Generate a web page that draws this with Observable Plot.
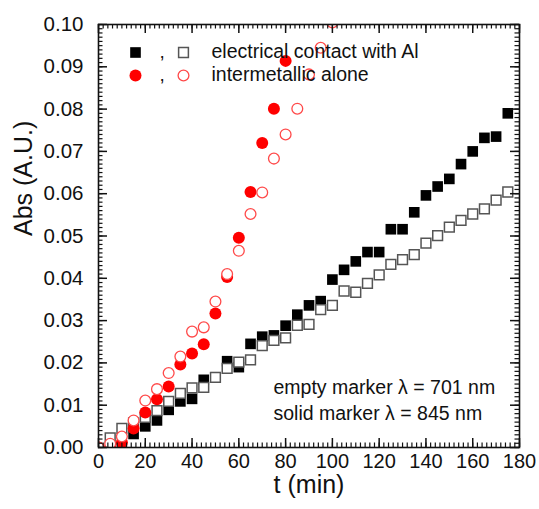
<!DOCTYPE html>
<html>
<head>
<meta charset="utf-8">
<script src="https://cdn.jsdelivr.net/npm/d3@7"></script>
<script src="https://cdn.jsdelivr.net/npm/@observablehq/plot@0.6"></script>
<style>
  html, body { margin: 0; padding: 0; background: #fff; }
  #chart svg { display: block; }
</style>
</head>
<body>
<div id="chart"></div>
<script>
// Absorbance versus time, at 845 nm (solid markers) and 701 nm (empty markers)

// Intermetallic in electrical contact with Al
const contactTime845 = [15, 20, 25, 30, 35, 40, 45, 50, 55, 60, 65, 70, 75, 80, 85, 90, 95, 100, 105, 110,
  115, 120, 125, 130, 135, 140, 145, 150, 155, 160, 165, 170, 175];
const contactAbs845 = [0.0032, 0.0050, 0.0064, 0.0089, 0.0109, 0.0115, 0.0160, 0.0166, 0.0204, 0.0190,
  0.0245, 0.0262, 0.0265, 0.0288, 0.0314, 0.0336, 0.0346, 0.0397, 0.0420, 0.0440,
  0.0462, 0.0462, 0.0516, 0.0516, 0.0556, 0.0596, 0.0617, 0.0635, 0.0670, 0.0700,
  0.0732, 0.0735, 0.0790];

const contactTime701 = [5, 10, 15, 20, 25, 30, 35, 40, 45, 50, 55, 60, 65, 70, 75, 80, 85, 90, 95, 100,
  105, 110, 115, 120, 125, 130, 135, 140, 145, 150, 155, 160, 165, 170, 175];
const contactAbs701 = [0.0023, 0.0045, 0.0058, 0.0071, 0.0087, 0.0109, 0.0128, 0.0141, 0.0142, 0.0166,
  0.0187, 0.0202, 0.0207, 0.0241, 0.0253, 0.0259, 0.0289, 0.0291, 0.0326, 0.0336,
  0.0370, 0.0367, 0.0388, 0.0408, 0.0433, 0.0444, 0.0456, 0.0483, 0.0501, 0.0521,
  0.0537, 0.0552, 0.0564, 0.0585, 0.0604];

// Intermetallic alone
const aloneTime845 = [0, 5, 10, 15, 20, 25, 30, 35, 40, 45, 50, 55, 60, 65, 70, 75, 80];
const aloneAbs845 = [0, 0, 0.0012, 0.0045, 0.0083, 0.0114, 0.0144, 0.0196, 0.0222, 0.0244,
  0.0317, 0.0403, 0.0496, 0.0604, 0.0720, 0.0801, 0.0914];

const aloneTime701 = [0, 5, 10, 15, 20, 25, 30, 35, 40, 45, 50, 55, 60, 65, 70, 75, 80, 85, 90, 95, 100];
const aloneAbs701 = [0, 0.0009, 0.0026, 0.0064, 0.0111, 0.0138, 0.0176, 0.0215, 0.0274, 0.0284,
  0.0345, 0.0410, 0.0465, 0.0552, 0.0603, 0.0683, 0.0740, 0.0801, 0.0882, 0.0945, 0.1005];

// Axis ticks and labels
const xTicks = [0, 20, 40, 60, 80, 100, 120, 140, 160, 180];
const yTicks = [0.00, 0.01, 0.02, 0.03, 0.04, 0.05, 0.06, 0.07, 0.08, 0.09, 0.10];
const xMinorStep = 2;
const yMinorStep = 0.001;
const xTitle = "t (min)";
const yTitle = "Abs (A.U.)";
const legendLabels = ["electrical contact with Al", "intermetallic alone"];
const noteLines = ["empty marker \u03bb = 701 nm", "solid marker \u03bb = 845 nm"];

const zip = (ts, vs) => ts.map((t, i) => ({t, v: vs[i]}));
const xMinor = d3.range(0, 180 + 1e-9, xMinorStep);
const yMinor = d3.range(0, 100.5, 1).map(k => k * yMinorStep);

const W = 539, H = 509;
const M = {left: 98, right: 20, top: 24, bottom: 62};
const frameW = W - M.left - M.right;
const frameH = H - M.top - M.bottom;

const ink = "#111111";
const red = "#ff0000";
const paleRed = "#ff4a4a";
const grey = "#555555";
const markerR = 6;

// Inward ticks on the bottom/top and left/right edges of the frame
function ticksX(values, size, lineWidth) {
  return [
    Plot.tickX(values, {x: d => d, insetTop: frameH - size, stroke: ink, strokeWidth: lineWidth}),
    Plot.tickX(values, {x: d => d, insetBottom: frameH - size, stroke: ink, strokeWidth: lineWidth})
  ];
}
function ticksY(values, size, lineWidth) {
  return [
    Plot.tickY(values, {y: d => d, insetRight: frameW - size, stroke: ink, strokeWidth: lineWidth}),
    Plot.tickY(values, {y: d => d, insetLeft: frameW - size, stroke: ink, strokeWidth: lineWidth})
  ];
}

const chart = Plot.plot({
  width: W,
  height: H,
  marginLeft: M.left,
  marginRight: M.right,
  marginTop: M.top,
  marginBottom: M.bottom,
  style: {fontFamily: "'Liberation Sans', Arial, sans-serif", color: "#111", background: "#fff"},
  x: {domain: [0, 180]},
  y: {domain: [0, 0.1]},
  marks: [
    // data series
    Plot.dot(zip(contactTime845, contactAbs845), {x: "t", y: "v", symbol: "square", r: markerR, fill: "#000", clip: true}),
    Plot.dot(zip(contactTime701, contactAbs701), {x: "t", y: "v", symbol: "square", r: markerR * 0.92, fill: "#fff", stroke: grey, strokeWidth: 1.5, clip: true}),
    Plot.dot(zip(aloneTime845, aloneAbs845), {x: "t", y: "v", symbol: "circle", r: markerR, fill: red, clip: true}),
    Plot.dot(zip(aloneTime701, aloneAbs701), {x: "t", y: "v", symbol: "circle", r: markerR - 0.6, fill: "#fff", stroke: paleRed, strokeWidth: 1.3, clip: true}),

    // frame and ticks
    Plot.frame({stroke: ink, strokeWidth: 1.6}),
    ...ticksX(xMinor, 4.5, 1.2),
    ...ticksX(xTicks, 9, 1.5),
    ...ticksY(yMinor, 4.5, 1.2),
    ...ticksY(yTicks, 9, 1.5),

    // tick labels
    Plot.axisX(xTicks, {anchor: "bottom", tickSize: 0, tickPadding: 6, fontSize: 20, label: null}),
    Plot.axisY(yTicks, {anchor: "left", tickSize: 0, tickPadding: 15, fontSize: 20.5, tickFormat: d3.format(".2f"), label: null}),

    // axis titles
    Plot.text([xTitle], {text: d => d, frameAnchor: "bottom", dy: 45, fontSize: 25}),
    Plot.text([yTitle], {text: d => d, frameAnchor: "left", rotate: -90, dx: -75, fontSize: 25}),

    // legend
    Plot.dot([0], {frameAnchor: "top-left", dx: 37, dy: 28, symbol: "square", r: markerR, fill: "#000"}),
    Plot.dot([0], {frameAnchor: "top-left", dx: 85, dy: 28, symbol: "square", r: markerR * 0.92, fill: "#fff", stroke: grey, strokeWidth: 1.5}),
    Plot.dot([0], {frameAnchor: "top-left", dx: 37, dy: 51, symbol: "circle", r: markerR, fill: red}),
    Plot.dot([0], {frameAnchor: "top-left", dx: 85, dy: 51, symbol: "circle", r: markerR - 0.6, fill: "#fff", stroke: paleRed, strokeWidth: 1.3}),
    Plot.text([","], {text: d => d, frameAnchor: "top-left", dx: 61, dy: 33, fontSize: 19, lineAnchor: "bottom"}),
    Plot.text([","], {text: d => d, frameAnchor: "top-left", dx: 61, dy: 56, fontSize: 19, lineAnchor: "bottom"}),
    Plot.text([legendLabels[0]], {text: d => d, frameAnchor: "top-left", textAnchor: "start", lineAnchor: "bottom", dx: 113, dy: 33, fontSize: 19.5}),
    Plot.text([legendLabels[1]], {text: d => d, frameAnchor: "top-left", textAnchor: "start", lineAnchor: "bottom", dx: 113, dy: 56, fontSize: 19.5}),

    // wavelength note
    Plot.text([noteLines[0]], {text: d => d, frameAnchor: "bottom-left", textAnchor: "start", lineAnchor: "bottom", dx: 175, dy: -54, fontSize: 19.5}),
    Plot.text([noteLines[1]], {text: d => d, frameAnchor: "bottom-left", textAnchor: "start", lineAnchor: "bottom", dx: 175, dy: -28, fontSize: 19.5})
  ]
});

document.getElementById("chart").appendChild(chart);
</script>
</body>
</html>
